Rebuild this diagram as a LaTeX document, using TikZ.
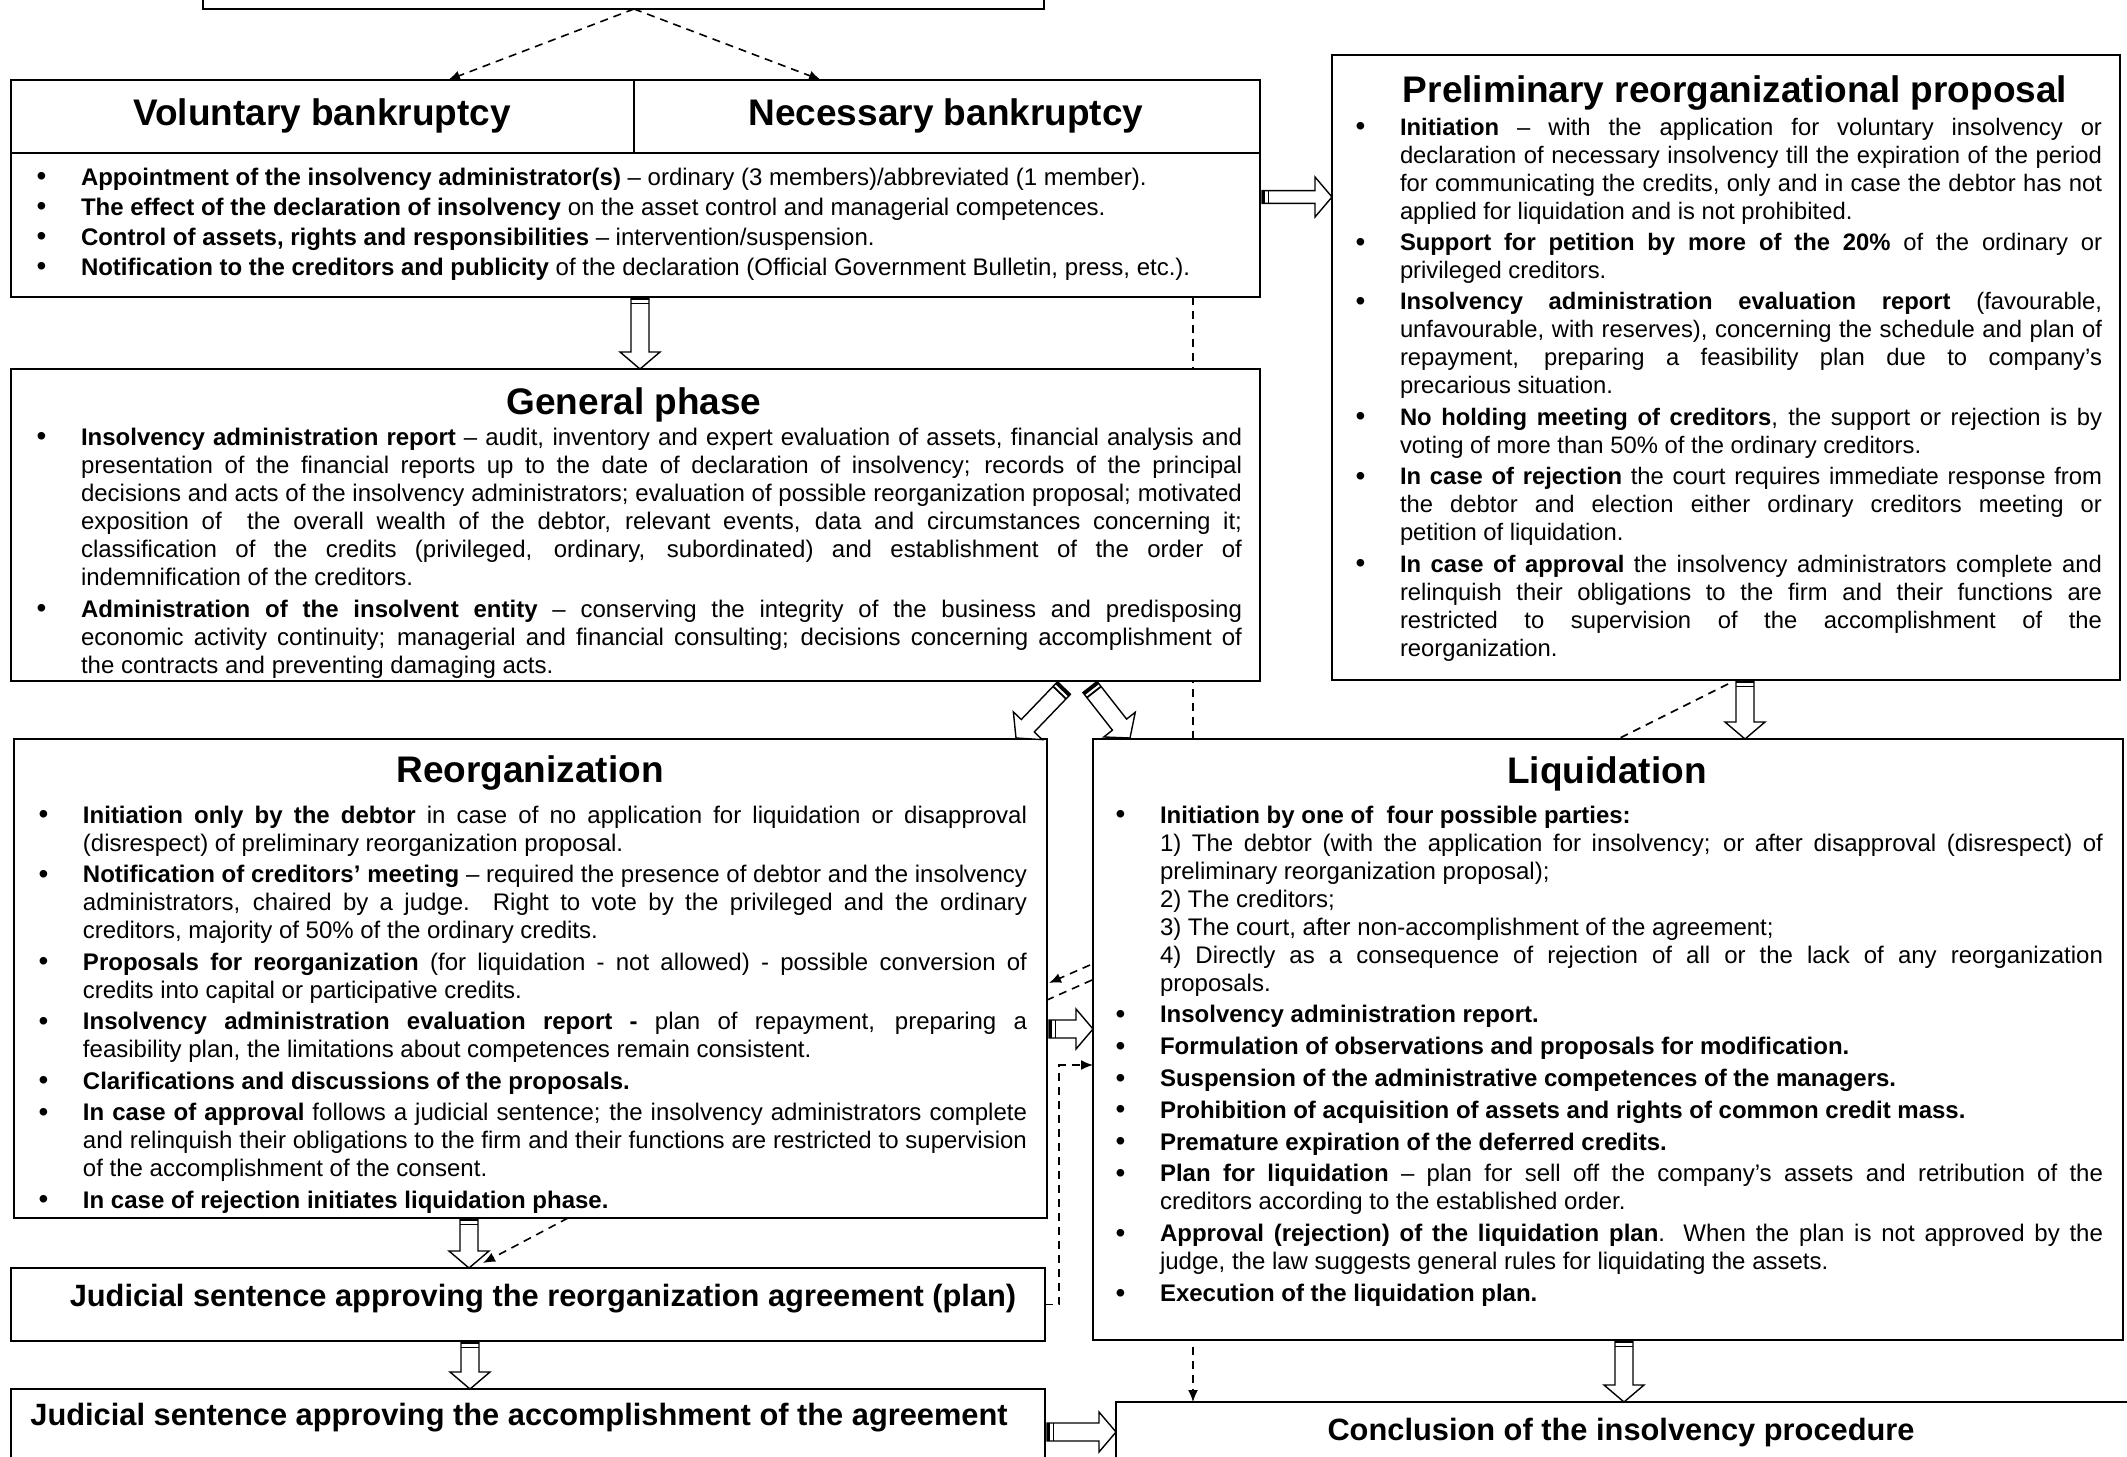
\documentclass[tikz,border=0pt]{standalone}
\usepackage{fontspec}
\setmainfont{Liberation Sans}
\usetikzlibrary{arrows.meta,calc,fit,backgrounds}
\tolerance=10000 \hbadness=10000
\hyphenpenalty=10000 \exhyphenpenalty=10000
\setlength\parskip{0pt}
\newcommand\bodyfont{\fontsize{12pt}{14pt}\selectfont}
\newcommand\prefont{\fontsize{11.9pt}{14pt}\selectfont}
\newcommand\bul{\rule{0pt}{9.5pt}\hspace{0.8pt}\raisebox{-0.3pt}{\scalebox{1.3}{\fontsize{10.75pt}{14pt}\selectfont\textbullet}}}
\newenvironment{blist}[1]{%
  \begin{list}{\bul}{%
    \setlength\leftmargin{23pt}\setlength\labelwidth{23pt}\setlength\labelsep{0pt}%
    \setlength\itemsep{#1}\setlength\parsep{0pt}\setlength\topsep{0pt}%
    \setlength\partopsep{0pt}\setlength\itemindent{0pt}%
    \renewcommand\makelabel[1]{##1\hfil}}}%
  {\end{list}}
% hollow block arrow: [shaft half width]{tail}{tip}
\newcommand\barrow[3][4.5pt]{%
  \path (#2) coordinate (bat) (#3) coordinate (bah);
  \path ($(bah)!8.5pt!(bat)$) coordinate (bab);
  \draw[line width=0.7pt, fill=white, line join=miter]
    ($(bat)!#1!90:(bah)$) -- ($(bab)!#1!90:(bah)$) -- ($(bab)!10pt!90:(bah)$) -- (bah)
    -- ($(bab)!10pt!-90:(bah)$) -- ($(bab)!#1!-90:(bah)$) -- ($(bat)!#1!-90:(bah)$) -- cycle;
  \path ($(bat)!0.8pt!(bah)$) coordinate (baq);
  \draw[line width=1.6pt] ($(baq)!#1!90:(bah)$) -- ($(baq)!#1!-90:(bah)$);
  \path ($(bat)!3.2pt!(bah)$) coordinate (baq);
  \draw[line width=0.9pt] ($(baq)!#1!90:(bah)$) -- ($(baq)!#1!-90:(bah)$);
}
\begin{document}
\begin{tikzpicture}[x=0.5pt,y=-0.5pt,
  bx/.style={draw,line width=1pt,fill=white,inner sep=0pt,outer sep=0pt},
  ttl/.style={font=\fontsize{18.5pt}{22pt}\selectfont\bfseries,inner sep=0pt,anchor=base},
  jtx/.style={font=\fontsize{15.4pt}{18pt}\selectfont\bfseries,inner sep=0pt,anchor=base},
  lst/.style={anchor=north west,inner sep=0pt,outer sep=0pt,font=\bodyfont,align=justify},
  dsh/.style={line width=0.8pt,dash pattern=on 4pt off 3pt},
  dtip/.style={-{Latex[length=6pt,width=5pt]}}]
\useasboundingbox (0,0) rectangle (2127,1457);

% ---------- boxes ----------
\node[bx,line width=1.3pt,fit={(203,-40) (1044,9)}] (top) {};
\node[bx,fit={(11,80) (1260,297)}] (vol) {};
\node[bx,fit={(1332,55) (2120,680)}] (prelim) {};
\node[bx,fit={(11,369) (1260,681)}] (gen) {};
\node[bx,fit={(14,739) (1047,1218)}] (reorg) {};
\node[bx,fit={(1093,739) (2123,1340)}] (liq) {};
\node[bx,fit={(11,1268) (1045,1341)}] (jud1) {};
\node[bx,fit={(11,1389) (1045,1490)}] (jud2) {};
\node[bx,fit={(1116,1402) (2140,1490)}] (concl) {};

\draw[line width=1.4pt] (vol.west |- 0,153) -- (vol.east |- 0,153);
\draw[line width=1pt] (634,80) -- (634,153);

% ---------- titles ----------
\node[ttl] (tvol) at (322,125) {Voluntary bankruptcy};
\node[ttl] (tnec) at (946,125) {Necessary bankruptcy};
\node[ttl] (tpre) at (1735,102) {Preliminary reorganizational proposal};
\node[ttl] (tgen) at (634,414) {General phase};
\node[ttl] (treo) at (530,782) {Reorganization};
\node[ttl] (tliq) at (1607,783) {Liquidation};
\node[jtx] (tj1) at (543,1306) {Judicial sentence approving the reorganization agreement (plan)};
\node[jtx,anchor=base west] (tj2) at (30,1425) {Judicial sentence approving the accomplishment of the agreement};
\node[jtx] (tcon) at (1621,1440) {Conclusion of the insolvency procedure};

% ---------- lists ----------
\node[lst,text width=608.5pt] (lvol) at (35,157) {%
\begin{blist}{1pt}
\item \textbf{Appointment of the insolvency administrator(s)} – ordinary (3 members)/abbreviated (1 member).
\item \textbf{The effect of the declaration of insolvency} on the asset control and managerial competences.
\item \textbf{Control of assets, rights and responsibilities} – intervention/suspension.
\item \textbf{Notification to the creditors and publicity} of the declaration (Official Government Bulletin, press, etc.).
\end{blist}};

\node[lst,font=\prefont,text width=374pt] (lpre) at (1354,107) {%
\begin{blist}{1.7pt}
\item \textbf{Initiation} – with the application for voluntary insolvency or\linebreak declaration of necessary insolvency till the expiration of the period\linebreak for communicating the credits, only and in case the debtor has not\linebreak applied for liquidation and is not prohibited.
\item \textbf{Support for petition by more of the 20\%} of the ordinary or\linebreak privileged creditors.
\item \textbf{Insolvency administration evaluation report} (favourable,\linebreak unfavourable, with reserves), concerning the schedule and plan of\linebreak repayment, preparing a feasibility plan due to company’s\linebreak precarious situation.
\item \textbf{No holding meeting of creditors}, the support or rejection is by\linebreak voting of more than 50\% of the ordinary creditors.
\item \textbf{In case of rejection} the court requires immediate response from\linebreak the debtor and election either ordinary creditors meeting or\linebreak petition of liquidation.
\item \textbf{In case of approval} the insolvency administrators complete and\linebreak relinquish their obligations to the firm and their functions are\linebreak restricted to supervision of the accomplishment of the\linebreak reorganization.
\end{blist}};

\node[lst,text width=603.5pt] (lgen) at (35,417) {%
\begin{blist}{2pt}
\item \textbf{Insolvency administration report} – audit, inventory and expert evaluation of assets, financial analysis and\linebreak presentation of the financial reports up to the date of declaration of insolvency; records of the principal\linebreak decisions and acts of the insolvency administrators; evaluation of possible reorganization proposal; motivated\linebreak exposition of \ the overall wealth of the debtor, relevant events, data and circumstances concerning it;\linebreak classification of the credits (privileged, ordinary, subordinated) and establishment of the order of\linebreak indemnification of the creditors.
\item \textbf{Administration of the insolvent entity} – conserving the integrity of the business and predisposing\linebreak economic activity continuity; managerial and financial consulting; decisions concerning accomplishment of\linebreak the contracts and preventing damaging acts.
\end{blist}};

\node[lst,text width=495pt] (lreo) at (37,795) {%
\begin{blist}{1.75pt}
\item \textbf{Initiation only by the debtor} in case of no application for liquidation or disapproval\linebreak (disrespect) of preliminary reorganization proposal.
\item \textbf{Notification of creditors’ meeting} – required the presence of debtor and the insolvency\linebreak administrators, chaired by a judge. Right to vote by the privileged and the ordinary\linebreak creditors, majority of 50\% of the ordinary credits.
\item \textbf{Proposals for reorganization} (for liquidation - not allowed) - possible conversion of\linebreak credits into capital or participative credits.
\item \textbf{Insolvency administration evaluation report -} plan of repayment, preparing a\linebreak feasibility plan, the limitations about competences remain consistent.
\item \textbf{Clarifications and discussions of the proposals.}
\item \textbf{In case of approval} follows a judicial sentence; the insolvency administrators complete\linebreak and relinquish their obligations to the firm and their functions are restricted to supervision\linebreak of the accomplishment of the consent.
\item \textbf{In case of rejection initiates liquidation phase.}
\end{blist}};

\node[lst,text width=494.5pt] (lliq) at (1114,795) {%
\begin{blist}{1.9pt}
\item \textbf{Initiation by one of \ four possible parties:}\newline 1) The debtor (with the application for insolvency; or after disapproval (disrespect) of\linebreak preliminary reorganization proposal);\newline 2) The creditors;\newline 3) The court, after non-accomplishment of the agreement;\newline 4) Directly as a consequence of rejection of all or the lack of any reorganization\linebreak proposals.
\item \textbf{Insolvency administration report.}
\item \textbf{Formulation of observations and proposals for modification.}
\item \textbf{Suspension of the administrative competences of the managers.}
\item \textbf{Prohibition of acquisition of assets and rights of common credit mass.}
\item \textbf{Premature expiration of the deferred credits.}
\item \textbf{Plan for liquidation} – plan for sell off the company’s assets and retribution of the\linebreak creditors according to the established order.
\item \textbf{Approval (rejection) of the liquidation plan}. When the plan is not approved by the\linebreak judge, the law suggests general rules for liquidating the assets.
\item \textbf{Execution of the liquidation plan.}
\end{blist}};

% ---------- long dashed line behind boxes ----------
\coordinate (d2s) at ([xshift=-33.5pt]vol.south east);
\coordinate (d2e) at (concl.north -| d2s);
\begin{scope}[on background layer]
\draw[dsh,dtip] (d2s) -- (d2e);
\end{scope}

% ---------- dashed connectors ----------
\coordinate (d1s) at ([xshift=5.25pt]top.south);
\draw[dsh,dtip] (d1s) -- ([xshift=-93.75pt]vol.north);
\draw[dsh,dtip] (d1s) -- ([xshift=92.75pt]vol.north);
\draw[dsh] ([xshift=1pt,yshift=-2pt]prelim.south) -- ([xshift=5pt]liq.north);
\draw[dsh,dtip] ([xshift=-1.5pt,yshift=37.25pt]liq.west) -- ([xshift=1pt,yshift=-2.25pt]reorg.east);
\draw[dsh] ([xshift=-0.5pt,yshift=29.75pt]liq.west) -- ([yshift=-10.75pt]reorg.east);
\coordinate (d6e) at ([yshift=-12.75pt]liq.west);
\draw[dsh,dtip] (jud1.east) -- ++(7pt,0) |- (d6e);
\draw[dsh,dtip] ([xshift=18.75pt]reorg.south) -- ([xshift=-22.5pt,yshift=2.5pt]jud1.north);

% ---------- block arrows ----------
\coordinate (a1t) at ([xshift=2.25pt]vol.south);
\coordinate (a1h) at (gen.north -| a1t);
\barrow{a1t}{a1h}
\coordinate (a2t) at ([xshift=1pt,yshift=-4.25pt]vol.east);
\coordinate (a2h) at (prelim.west |- a2t);
\barrow[3.2pt]{a2t}{a2h}
\coordinate (a3t) at ([xshift=214.25pt,yshift=-3.5pt]gen.south);
\coordinate (a3h) at ([xshift=-15.5pt,yshift=0.5pt]reorg.north east);
\barrow{a3t}{a3h}
\coordinate (a4t) at ([xshift=227.25pt,yshift=-3pt]gen.south);
\coordinate (a4h) at ([xshift=18.5pt,yshift=0.5pt]liq.north west);
\barrow{a4t}{a4h}
\coordinate (a5t) at ([xshift=9.5pt]prelim.south);
\coordinate (a5h) at (liq.north -| a5t);
\barrow{a5t}{a5h}
\coordinate (a6t) at ([xshift=1pt,yshift=-25.25pt]reorg.east);
\coordinate (a6h) at (liq.west |- a6t);
\barrow{a6t}{a6h}
\coordinate (a7t) at ([xshift=-30.75pt]reorg.south);
\coordinate (a7h) at (jud1.north -| a7t);
\barrow{a7t}{a7h}
\coordinate (a8t) at ([xshift=-29pt]jud1.south);
\coordinate (a8h) at (jud2.north -| a8t);
\barrow{a8t}{a8h}
\coordinate (a9t) at ([xshift=1pt,yshift=3.75pt]jud2.east);
\coordinate (a9h) at (concl.west |- a9t);
\barrow{a9t}{a9h}
\coordinate (a10t) at ([xshift=8pt]liq.south);
\coordinate (a10h) at (concl.north -| a10t);
\barrow{a10t}{a10h}
\end{tikzpicture}
\end{document}
